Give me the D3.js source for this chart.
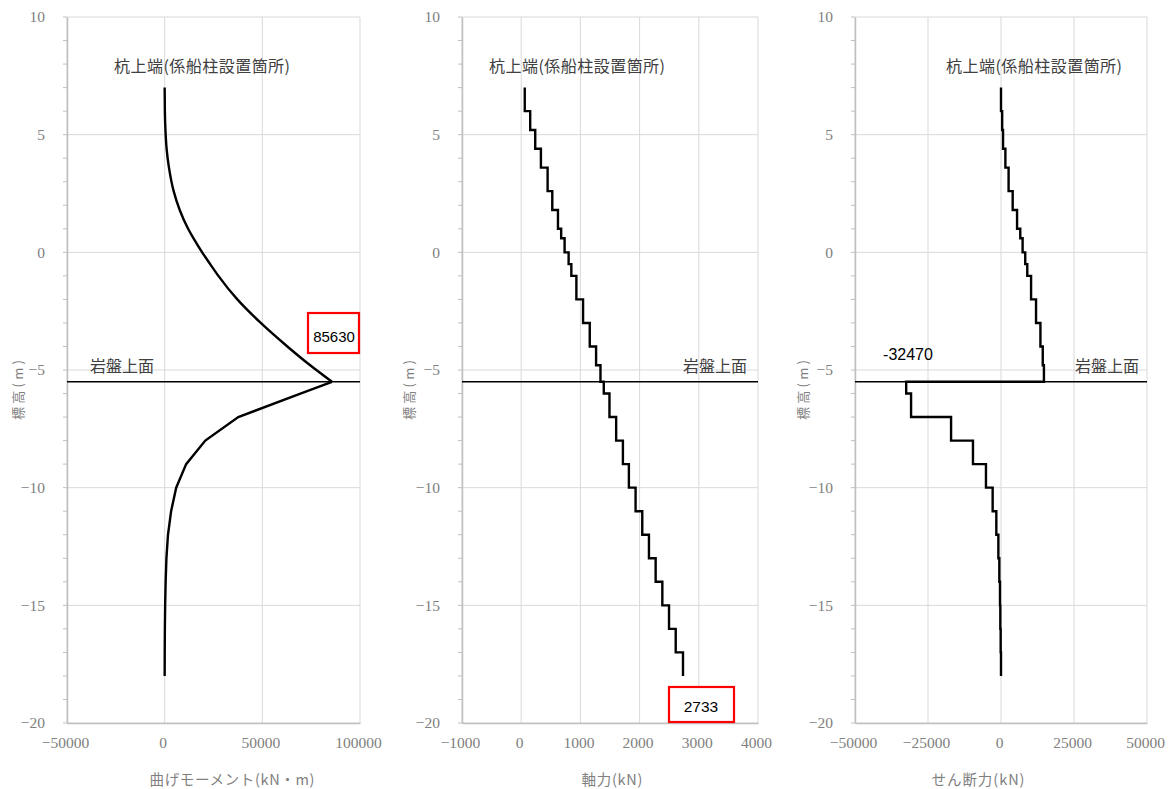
<!DOCTYPE html>
<html>
<head>
<meta charset="utf-8">
<script src="https://cdn.jsdelivr.net/npm/d3@7"></script>
<style>
  html, body { margin: 0; padding: 0; background: #ffffff; }
  svg { display: block; }
</style>
</head>
<body>
<svg id="chart" width="1174" height="789"></svg>
<script>
// ---------- DATA ----------
const elevTicks = [10, 5, 0, -5, -10, -15, -20];
const elevMinorTicks = d3.range(-20, 11, 1);
const rockElevation = -5.5;

// bending moment (kN·m) vs elevation
const momentElev   = [7, 6, 5.2, 4.4, 3.6, 2.6, 1.8, 1.0, 0.6, 0, -0.5, -1, -2, -3, -4, -4.8, -5.5, -6, -7, -8, -9, -10, -11, -12, -13, -14, -15, -16, -17, -18];
const momentValues = [0, 100, 400, 1000, 2200, 4600, 7700, 12000, 14700, 19200, 23300, 27500, 37200, 49200, 62800, 74500, 85630, 69500, 37700, 20800, 11000, 5900, 3300, 1700, 900, 500, 250, 100, 30, 0];
const momentPeakIndex = 16;

// segment boundaries for step diagrams (elevation, m)
const stepBounds = [7, 6, 5.2, 4.4, 3.6, 2.6, 1.8, 1.0, 0.6, 0, -0.5, -1, -2, -3, -4, -4.8, -5.5, -6, -7, -8, -9, -10, -11, -12, -13, -14, -15, -16, -17, -18];
// axial force (kN) per segment
const axialValues = [60, 152, 237, 333, 446, 525, 621, 675, 733, 801, 847, 932, 1045, 1158, 1265, 1339, 1395, 1491, 1604, 1718, 1819, 1932, 2045, 2158, 2271, 2384, 2497, 2610, 2733];
// shear force (kN) per segment
const shearValues = [0, 400, 700, 1500, 2600, 4000, 5500, 6600, 7400, 8300, 9000, 10300, 12000, 13500, 14300, 14700, -32470, -30800, -17100, -9600, -5150, -2860, -1600, -900, -570, -340, -230, -110, 0];

const momentTicks = [-50000, 0, 50000, 100000];
const axialTicks  = [-1000, 0, 1000, 2000, 3000, 4000];
const shearTicks  = [-50000, -25000, 0, 25000, 50000];

const xTitles = ["曲げモーメント(kN・m)", "軸力(kN)", "せん断力(kN)"];
const yTitle = "標高(m)";
const topLabel = "杭上端(係船柱設置箇所)";
const rockLabel = "岩盤上面";
const callouts = ["85630", "2733", "-32470"];

// ---------- LAYOUT ----------
const svg = d3.select("#chart");
const plotTop = 17, plotBottom = 723;
const y = d3.scaleLinear().domain([-20, 10]).range([plotBottom, plotTop]);

const panels = [
  { x0: 67,  x1: 360,  domain: [-50000, 100000], ticks: momentTicks, title: xTitles[0], titleX: 232, titleW: 165, yLabelX: 17,  topLabelX: 202, rockX: 90 },
  { x0: 462, x1: 758,  domain: [-1000, 4000],    ticks: axialTicks,  title: xTitles[1], titleX: 612, titleW: 61,  yLabelX: 408, topLabelX: 577, rockX: 683 },
  { x0: 855, x1: 1147, domain: [-50000, 50000],  ticks: shearTicks,  title: xTitles[2], titleX: 978, titleW: 93,  yLabelX: 802, topLabelX: 1034, rockX: 1075 }
];

const tickFont = "'Liberation Serif', 'DejaVu Serif', serif";
const cjkFont = "'Noto Sans CJK JP', 'Noto Sans', sans-serif";
const fmt = d3.format("d");
const fmtTick = v => (v < 0 ? "\u2212" + fmt(-v) : fmt(v));

panels.forEach(p => {
  p.x = d3.scaleLinear().domain(p.domain).range([p.x0, p.x1]);
  const g = svg.append("g");

  // gridlines
  g.selectAll("line.vg").data(p.ticks).join("line")
    .attr("x1", d => p.x(d)).attr("x2", d => p.x(d))
    .attr("y1", plotTop).attr("y2", plotBottom)
    .attr("stroke", "#d9d9d9").attr("stroke-width", 1);
  g.selectAll("line.hg").data(elevTicks).join("line")
    .attr("x1", p.x0).attr("x2", p.x1)
    .attr("y1", d => y(d)).attr("y2", d => y(d))
    .attr("stroke", "#d9d9d9").attr("stroke-width", 1);

  // y axis (left)
  const yAxis = d3.axisLeft(y).tickValues(elevTicks).tickSize(0).tickPadding(22).tickFormat(fmtTick);
  const ya = g.append("g").attr("transform", `translate(${p.x0},0)`).call(yAxis);
  ya.select(".domain").attr("stroke", "#bfbfbf").attr("stroke-width", 1.5);
  ya.selectAll("text").attr("font-family", tickFont).attr("font-size", 15.5).attr("fill", "#808080");
  // minor ticks
  g.selectAll("line.mt").data(elevMinorTicks).join("line")
    .attr("x1", p.x0 - 4).attr("x2", p.x0)
    .attr("y1", d => y(d)).attr("y2", d => y(d))
    .attr("stroke", "#bfbfbf").attr("stroke-width", 1);

  // x axis (bottom)
  const xAxis = d3.axisBottom(p.x).tickValues(p.ticks).tickSize(0).tickPadding(14).tickFormat(fmtTick);
  const xa = g.append("g").attr("transform", `translate(0,${plotBottom})`).call(xAxis);
  xa.select(".domain").attr("stroke", "#bfbfbf").attr("stroke-width", 1.5);
  xa.selectAll("text").attr("font-family", tickFont).attr("font-size", 15.5).attr("fill", "#808080").attr("dx", -2);

  // rock surface line
  g.append("line")
    .attr("x1", p.x0).attr("x2", p.x1)
    .attr("y1", y(rockElevation)).attr("y2", y(rockElevation))
    .attr("stroke", "#000").attr("stroke-width", 1.3);

  // titles
  g.append("text").attr("x", p.titleX).attr("y", 778).attr("text-anchor", "middle")
    .attr("dominant-baseline", "central")
    .attr("textLength", p.titleW).attr("lengthAdjust", "spacing")
    .attr("font-family", cjkFont).attr("font-size", 14.5).attr("fill", "#7f7f7f").text(p.title);
  g.append("text").attr("transform", `translate(${p.yLabelX},390) rotate(-90)`)
    .attr("text-anchor", "middle").attr("dominant-baseline", "central")
    .attr("textLength", 60).attr("lengthAdjust", "spacing")
    .attr("font-family", cjkFont).attr("font-size", 13).attr("fill", "#7f7f7f").text(yTitle);
  g.append("text").attr("x", p.topLabelX).attr("y", 65).attr("text-anchor", "middle")
    .attr("dominant-baseline", "central")
    .attr("textLength", 176).attr("lengthAdjust", "spacing")
    .attr("font-family", cjkFont).attr("font-size", 16).attr("fill", "#404040").text(topLabel);
  g.append("text").attr("x", p.rockX).attr("y", 365)
    .attr("dominant-baseline", "central")
    .attr("font-family", cjkFont).attr("font-size", 16).attr("fill", "#404040").text(rockLabel);
});

// ---------- SERIES ----------
const lineStyle = sel => sel.attr("fill", "none").attr("stroke", "#000").attr("stroke-width", 2.4)
  .attr("stroke-linejoin", "miter");

// moment curve: smooth above the peak, straight segments below
const mPts = momentElev.map((e, i) => [momentValues[i], e]);
svg.append("path").datum(mPts.slice(0, momentPeakIndex + 1)).call(lineStyle)
  .attr("d", d3.line().x(d => panels[0].x(d[0])).y(d => y(d[1])).curve(d3.curveMonotoneY));
svg.append("path").datum(mPts.slice(momentPeakIndex)).call(lineStyle)
  .attr("d", d3.line().x(d => panels[0].x(d[0])).y(d => y(d[1])));

// step builder
function stepPoints(values) {
  const pts = [];
  values.forEach((v, i) => { pts.push([v, stepBounds[i]]); pts.push([v, stepBounds[i + 1]]); });
  return pts;
}
svg.append("path").datum(stepPoints(axialValues)).call(lineStyle)
  .attr("d", d3.line().x(d => panels[1].x(d[0])).y(d => y(d[1])));
svg.append("path").datum(stepPoints(shearValues)).call(lineStyle)
  .attr("d", d3.line().x(d => panels[2].x(d[0])).y(d => y(d[1])));

// ---------- CALLOUTS ----------
const calloutFont = "'Liberation Sans', Arial, sans-serif";
// 85630 box
svg.append("rect").attr("x", 308).attr("y", 313).attr("width", 51).attr("height", 40)
  .attr("fill", "#fff").attr("stroke", "#ff0000").attr("stroke-width", 2.2);
svg.append("text").attr("x", 334).attr("y", 336).attr("text-anchor", "middle").attr("dominant-baseline", "central")
  .attr("font-family", calloutFont).attr("font-size", 15).attr("fill", "#000").text(callouts[0]);
// 2733 box
svg.append("rect").attr("x", 669).attr("y", 687).attr("width", 65).attr("height", 35)
  .attr("fill", "#fff").attr("stroke", "#ff0000").attr("stroke-width", 2.2);
svg.append("text").attr("x", 701).attr("y", 706).attr("text-anchor", "middle").attr("dominant-baseline", "central")
  .attr("font-family", calloutFont).attr("font-size", 15.5).attr("fill", "#000").text(callouts[1]);
// -32470 label
svg.append("text").attr("x", 908).attr("y", 354).attr("text-anchor", "middle").attr("dominant-baseline", "central")
  .attr("font-family", calloutFont).attr("font-size", 16).attr("fill", "#000").text(callouts[2]);
</script>
</body>
</html>
